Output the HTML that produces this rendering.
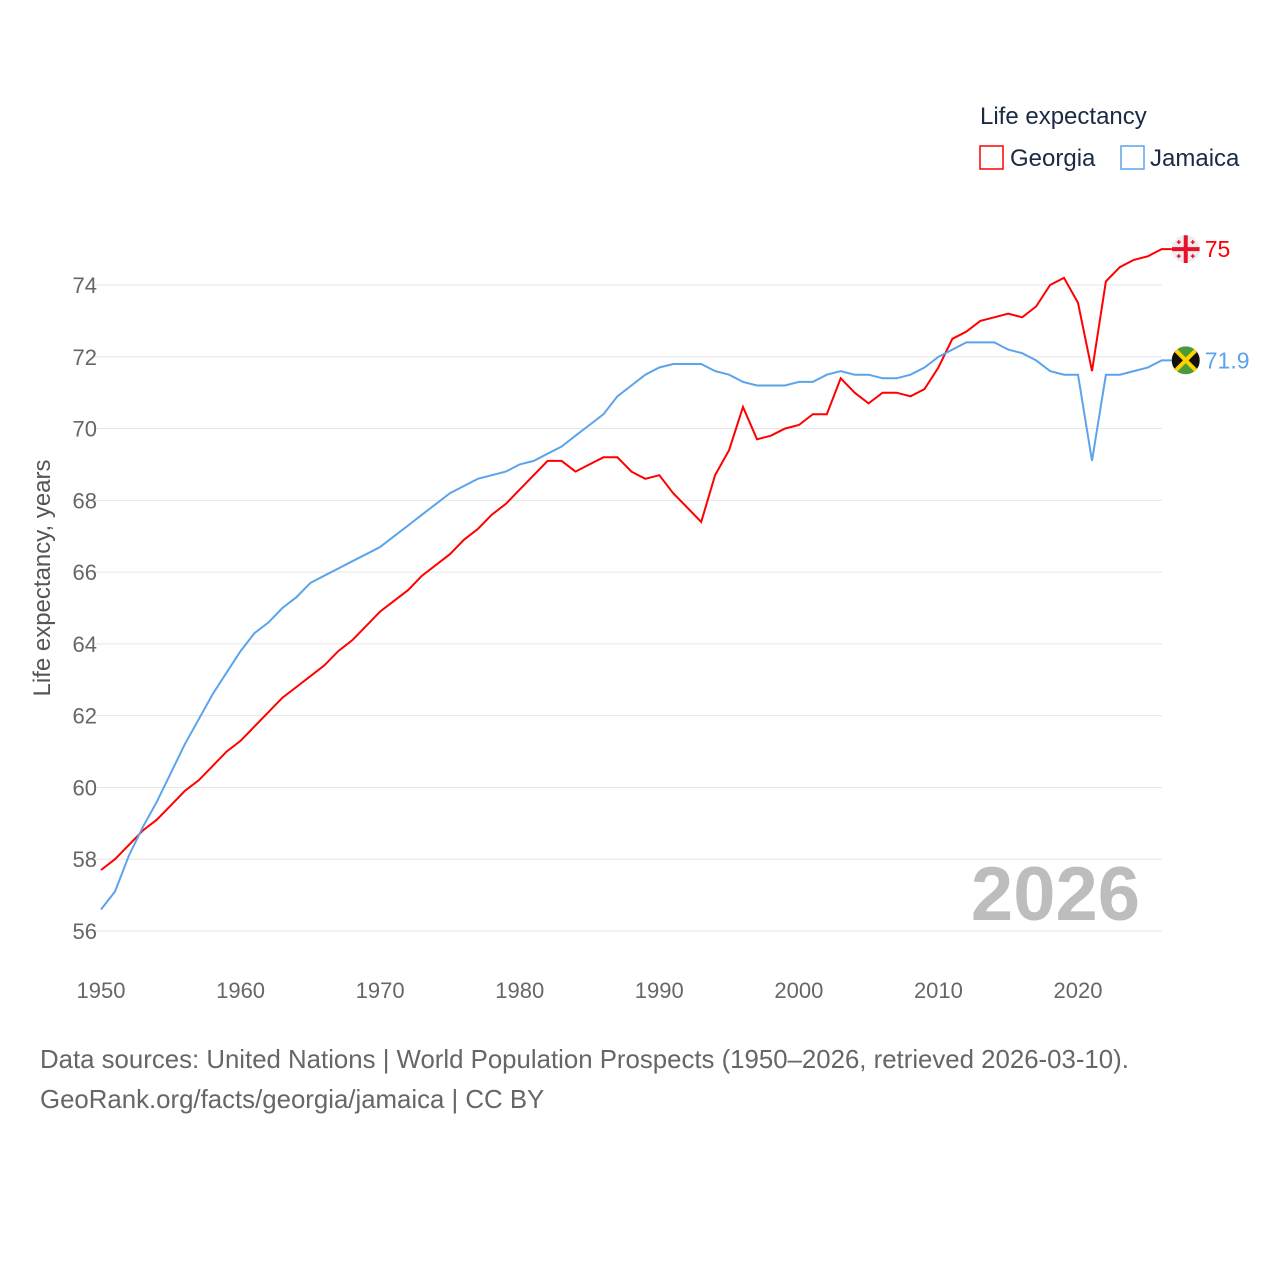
<!DOCTYPE html>
<html><head><meta charset="utf-8"><style>
body{margin:0;background:#fff;font-family:"Liberation Sans",sans-serif;}
svg text{font-family:"Liberation Sans",sans-serif;}
</style></head><body>
<svg width="1280" height="1280" viewBox="0 0 1280 1280">
<defs><clipPath id="cg"><circle id="cgc" r="14"/></clipPath><clipPath id="cj"><circle id="cjc" r="14"/></clipPath></defs>
<g id="grid"></g>
<g id="yt"></g>
<g id="xt"></g>
<text x="1140" y="920" font-size="76" font-weight="bold" fill="#bdbdbd" text-anchor="end">2026</text>
<text transform="translate(50,578) rotate(-90)" font-size="24" fill="#555" text-anchor="middle">Life expectancy, years</text>
<path id="pg" fill="none" stroke="#ff0000" stroke-width="2"/>
<path id="pj" fill="none" stroke="#5ba4ec" stroke-width="2"/>
<g>
<text x="980" y="124" font-size="24" fill="#1a2a44">Life expectancy</text>
<rect x="980" y="146" width="23" height="23" fill="none" stroke="#ff0000" stroke-width="1.5"/>
<text x="1010" y="166" font-size="24" fill="#1a2a44">Georgia</text>
<rect x="1121" y="146" width="23" height="23" fill="none" stroke="#5ba4ec" stroke-width="1.5"/>
<text x="1150" y="166" font-size="24" fill="#1a2a44">Jamaica</text>
</g>
<g id="ends"></g>
<text x="40" y="1068" font-size="25.8" fill="#666">Data sources: United Nations | World Population Prospects (1950–2026, retrieved 2026-03-10).</text>
<text x="40" y="1108" font-size="25.8" fill="#666">GeoRank.org/facts/georgia/jamaica | CC BY</text>
</svg>
<script>
const years=[];for(let y=1950;y<=2026;y++)years.push(y);
const georgia=[57.7,58.0,58.4,58.8,59.1,59.5,59.9,60.2,60.6,61.0,61.3,61.7,62.1,62.5,62.8,63.1,63.4,63.8,64.1,64.5,64.9,65.2,65.5,65.9,66.2,66.5,66.9,67.2,67.6,67.9,68.3,68.7,69.1,69.1,68.8,69.0,69.2,69.2,68.8,68.6,68.7,68.2,67.8,67.4,68.7,69.4,70.6,69.7,69.8,70.0,70.1,70.4,70.4,71.4,71.0,70.7,71.0,71.0,70.9,71.1,71.7,72.5,72.7,73.0,73.1,73.2,73.1,73.4,74.0,74.2,73.5,71.6,74.1,74.5,74.7,74.8,75.0];
const jamaica=[56.6,57.1,58.1,58.9,59.6,60.4,61.2,61.9,62.6,63.2,63.8,64.3,64.6,65.0,65.3,65.7,65.9,66.1,66.3,66.5,66.7,67.0,67.3,67.6,67.9,68.2,68.4,68.6,68.7,68.8,69.0,69.1,69.3,69.5,69.8,70.1,70.4,70.9,71.2,71.5,71.7,71.8,71.8,71.8,71.6,71.5,71.3,71.2,71.2,71.2,71.3,71.3,71.5,71.6,71.5,71.5,71.4,71.4,71.5,71.7,72.0,72.2,72.4,72.4,72.4,72.2,72.1,71.9,71.6,71.5,71.5,69.1,71.5,71.5,71.6,71.7,71.9];
const yTicks=[56,58,60,62,64,66,68,70,72,74];
const xTicks=[1950,1960,1970,1980,1990,2000,2010,2020];
const X=y=>101+(y-1950)*(1078-101)/70;
const Y=v=>931-(v-56)*(931-285)/18;
const NS="http://www.w3.org/2000/svg";
function mk(t,a,p,txt){const e=document.createElementNS(NS,t);for(const k in a)e.setAttribute(k,a[k]);if(txt!==undefined)e.textContent=txt;p.appendChild(e);return e;}
const grid=document.getElementById('grid'),yt=document.getElementById('yt'),xt=document.getElementById('xt');
yTicks.forEach(v=>{
 const l=mk('line',{x1:95,x2:1162,y1:Y(v),y2:Y(v),stroke:'#e6e6e6','stroke-width':1},grid);
 
 
 const t=mk('text',{x:97,y:Y(v)+8,'font-size':22,fill:'#666','text-anchor':'end'},yt,v);
 
 
});
xTicks.forEach(v=>{
 const t=mk('text',{x:X(v),y:998,'font-size':22,fill:'#666','text-anchor':'middle'},xt,v);
 
 
});
const gx=X(2026)+24;
const path=a=>a.map((v,i)=>(i?'L':'M')+X(years[i]).toFixed(1)+','+Y(v).toFixed(1)).join('')+'L'+(gx-12)+','+Y(a[a.length-1]).toFixed(1);
document.getElementById('pg').setAttribute('d',path(georgia));
document.getElementById('pj').setAttribute('d',path(jamaica));
const ends=document.getElementById('ends');
const gl=georgia[georgia.length-1],jl=jamaica[jamaica.length-1];
const gy=Y(gl),jy=Y(jl);
const cgc=document.getElementById('cgc');cgc.setAttribute('cx',gx);cgc.setAttribute('cy',gy);
const cjc=document.getElementById('cjc');cjc.setAttribute('cx',gx);cjc.setAttribute('cy',jy);
const fg=mk('g',{'clip-path':'url(#cg)'},ends);


mk('rect',{x:gx-14,y:gy-14,width:28,height:28,fill:'#eee'},fg);
mk('rect',{x:gx-14,y:gy-2,width:28,height:4,fill:'#e8112d'},fg);
mk('rect',{x:gx-2,y:gy-14,width:4,height:28,fill:'#e8112d'},fg);
[[-7,-7],[7,-7],[-7,7],[7,7]].forEach(([dx,dy])=>{mk('rect',{x:gx+dx-2,y:gy+dy-0.7,width:4,height:1.4,fill:'#e8112d'},fg);mk('rect',{x:gx+dx-0.7,y:gy+dy-2,width:1.4,height:4,fill:'#e8112d'},fg);});
const tg=mk('text',{x:gx+19,y:gy+8,'font-size':23,fill:'#ff0000'},ends,gl);


const fj=mk('g',{'clip-path':'url(#cj)'},ends);


mk('rect',{x:gx-14,y:jy-14,width:28,height:28,fill:'#4a9a3a'},fj);
mk('path',{d:`M${gx-14},${jy-14}L${gx},${jy}L${gx-14},${jy+14}Z M${gx+14},${jy-14}L${gx},${jy}L${gx+14},${jy+14}Z`,fill:'#111'},fj);
mk('path',{d:`M${gx-14},${jy-14}L${gx+14},${jy+14}M${gx+14},${jy-14}L${gx-14},${jy+14}`,stroke:'#fed100','stroke-width':4},fj);
const tj=mk('text',{x:gx+19,y:jy+8,'font-size':23,fill:'#5ba4ec'},ends,jl);


</script>
</body></html>
